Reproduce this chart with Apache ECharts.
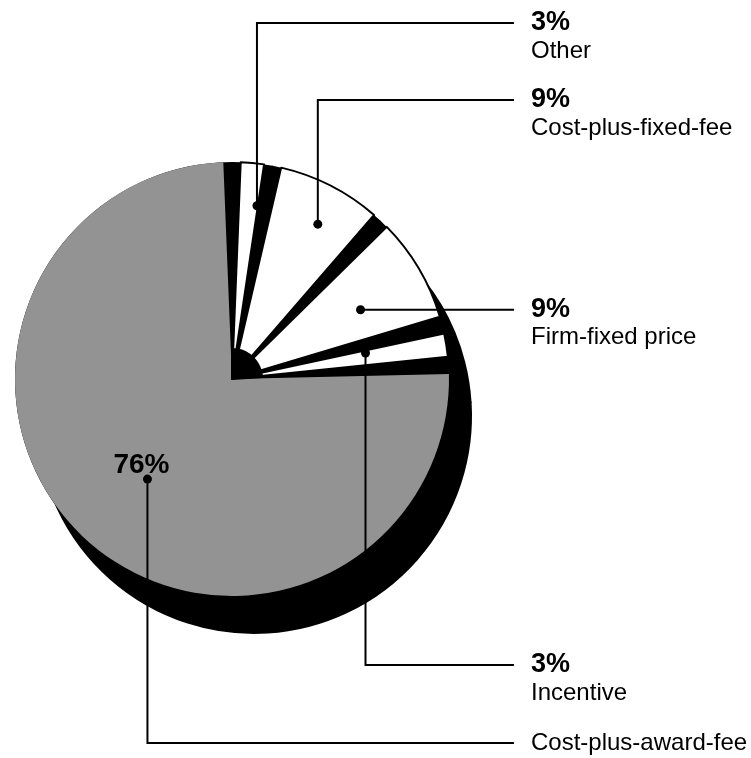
<!DOCTYPE html>
<html>
<head>
<meta charset="utf-8">
<script src="https://cdn.jsdelivr.net/npm/echarts@6/dist/echarts.min.js"></script>
<style>
  html, body { margin: 0; padding: 0; background: #fff; }
  #chart { width: 751px; height: 758px; }
</style>
</head>
<body>
<div id="chart"></div>
<script>
// ---- data ----
const categories = ['Other', 'Cost-plus-fixed-fee', 'Firm-fixed price', 'Incentive', 'Cost-plus-award-fee'];
const shares = [3, 9, 9, 3, 76];
const pctLabels = ['3%', '9%', '9%', '3%', '76%'];

// ---- layout / style ----
const CX = 232, CY = 379, R = 217;
const SHADOW_DX = 22, SHADOW_DY = 37;
const TEXT_X = 531, LINE_END = 514;
const lineY = [23, 100, null, 665, 743];
const dotR = [175, 177, 146, 136, 131];
const dotDA = [2.8, 2, 2.3, -2, -3];
const FONT = '"Liberation Sans", Arial, Helvetica, sans-serif';
const GRAY = '#939393';

const pieData = categories.map((n, i) => ({ name: n, value: shares[i] }));
const total = shares.reduce((a, b) => a + b, 0);

// slice mid angles (degrees clockwise from 12 o'clock)
const mids = [];
let cum = 0;
shares.forEach(v => { mids.push((cum + v / 2) / total * 360); cum += v; });

const isBig = i => i === shares.length - 1;

const basePie = {
  type: 'pie', startAngle: 90, clockwise: true, silent: true, animation: false,
  label: { show: false }, labelLine: { show: false }, emphasis: { disabled: true }
};
const blackStyle = { color: '#000', borderColor: '#000', borderWidth: 2 };

const series = [
  Object.assign({}, basePie, {
    center: [CX + SHADOW_DX, CY + SHADOW_DY], radius: R, z: 1,
    data: pieData.map(d => ({ name: d.name, value: d.value, itemStyle: blackStyle }))
  }),
  Object.assign({}, basePie, {
    center: [CX, CY], radius: R - 1, z: 2,
    data: pieData.map(d => ({ name: d.name, value: d.value, itemStyle: blackStyle }))
  }),
  Object.assign({}, basePie, {
    center: [CX, CY], radius: R, z: 3, padAngle: 4.6,
    data: pieData.map((d, i) => ({
      name: d.name, value: d.value,
      itemStyle: isBig(i)
        ? { color: GRAY, borderWidth: 0 }
        : { color: '#fff', borderColor: '#000', borderWidth: 2 }
    }))
  }),
  Object.assign({}, basePie, {
    center: [CX, CY], radius: 30, z: 4,
    data: pieData.map((d, i) => ({
      name: d.name, value: d.value,
      itemStyle: isBig(i) ? { color: 'rgba(0,0,0,0)' } : blackStyle
    }))
  })
];

const graphics = [];
categories.forEach((name, i) => {
  const a = (mids[i] + dotDA[i]) * Math.PI / 180;
  const dx = CX + dotR[i] * Math.sin(a);
  const dy = CY - dotR[i] * Math.cos(a);
  const ly = lineY[i] == null ? dy : lineY[i];
  graphics.push({
    type: 'polyline', z: 100, silent: true,
    shape: { points: [[dx, dy], [dx, ly], [LINE_END, ly]] },
    style: { stroke: '#000', lineWidth: 2, fill: null }
  });
  graphics.push({
    type: 'circle', z: 101, silent: true,
    shape: { cx: dx, cy: dy, r: 4.5 }, style: { fill: '#000' }
  });
  const txt = (t, x, y, font, align) => ({
    type: 'text', z: 102, x: x, y: y, silent: true,
    style: { text: t, font: font, fill: '#000',
      align: align, verticalAlign: 'middle', textAlign: align, textVerticalAlign: 'middle' }
  });
  if (!isBig(i)) {
    graphics.push(txt(pctLabels[i], TEXT_X, ly, 'bold 27px ' + FONT, 'left'));
    graphics.push(txt(name, TEXT_X, ly + 28, '24px ' + FONT, 'left'));
  } else {
    graphics.push(txt(name, TEXT_X, ly, '24px ' + FONT, 'left'));
    graphics.push(txt(pctLabels[i], dx - 6, dy - 14, 'bold 28px ' + FONT, 'center'));
  }
});

const chart = echarts.init(document.getElementById('chart'), null, { renderer: 'canvas' });
chart.setOption({
  backgroundColor: '#fff',
  animation: false,
  series: series,
  graphic: { elements: graphics }
});
</script>
</body>
</html>
